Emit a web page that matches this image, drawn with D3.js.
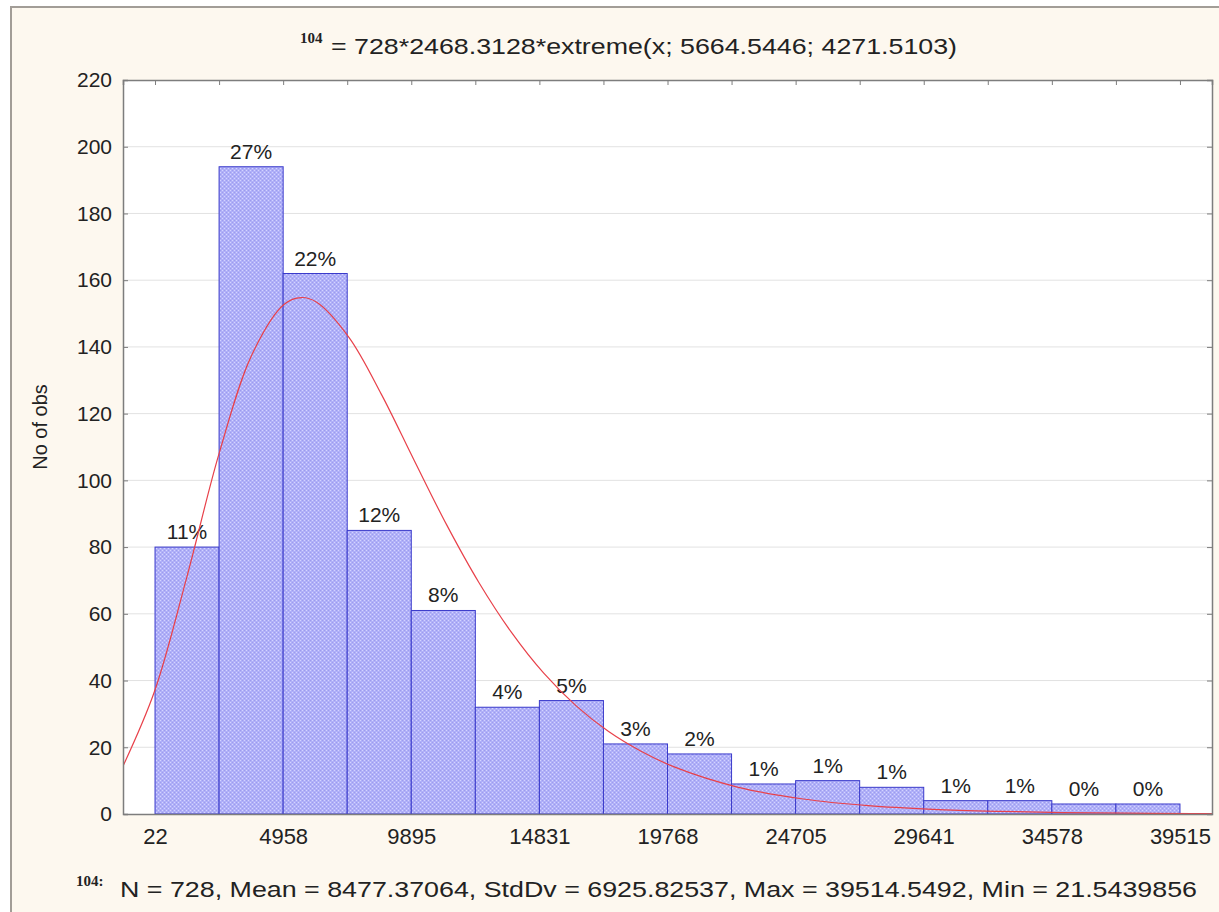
<!DOCTYPE html>
<html>
<head>
<meta charset="utf-8">
<script src="https://cdn.jsdelivr.net/npm/d3@7"></script>
<style>
  body { margin: 0; background: #ffffff; }
  svg { display: block; font-family: "Liberation Sans", Arial, sans-serif; }
</style>
</head>
<body>
<div id="chart"></div>
<script>
const width = 1219;
const height = 912;
const margin = { top: 80, right: 7, bottom: 98, left: 123 };

// bin edges (17 edges -> 16 bins)
const binEdges = [22, 2490.3, 4958.6, 7426.9, 9895.3, 12363.6, 14831.9, 17300.2,
  19768.5, 22236.8, 24705.1, 27173.4, 29641.8, 32110.1, 34578.4, 37046.7, 39515];
const counts = [80, 194, 162, 85, 61, 32, 34, 21, 18, 9, 10, 8, 4, 4, 3, 3];
const pctLabels = ["11%", "27%", "22%", "12%", "8%", "4%", "5%", "3%", "2%",
  "1%", "1%", "1%", "1%", "1%", "0%", "0%"];
const xTickValues = [22, 4958, 9895, 14831, 19768, 24705, 29641, 34578, 39515];
const yTickValues = [0, 20, 40, 60, 80, 100, 120, 140, 160, 180, 200, 220];

// fitted curve
const curveX = [-1250, 0, 1250, 2500, 3750, 5000, 5665, 6250, 7500, 8750, 10000,
  11250, 12500, 13750, 15000, 16250, 17500, 18750, 20000, 22500, 25000, 27500,
  30000, 32500, 35000, 37500, 40000, 41000];
const curveY = [13.7, 36.7, 71.1, 108.3, 137.6, 152.8, 154.8, 153.4, 142.8, 125.7,
  106.1, 86.8, 69.4, 54.5, 42.2, 32.4, 24.7, 18.8, 14.2, 8.0, 4.5, 2.5, 1.4, 0.8,
  0.44, 0.24, 0.14, 0.11];

const titleText = "= 728*2468.3128*extreme(x; 5664.5446; 4271.5103)";
const statsText = "N = 728, Mean = 8477.37064, StdDv = 6925.82537, Max = 39514.5492, Min = 21.5439856";
const varName = "104";

const svg = d3.select("#chart").append("svg")
  .attr("width", width)
  .attr("height", height);

// window background
svg.append("rect")
  .attr("x", 11).attr("y", 7)
  .attr("width", width - 11).attr("height", height - 7)
  .attr("fill", "#fdf8ef");
svg.append("path")
  .attr("d", `M11,${height} V7 H${width}`)
  .attr("fill", "none")
  .attr("stroke", "#a29d97")
  .attr("stroke-width", 2);

const defs = svg.append("defs");
const pat = defs.append("pattern")
  .attr("id", "stipple")
  .attr("width", 4).attr("height", 4)
  .attr("patternUnits", "userSpaceOnUse");
pat.append("rect").attr("width", 4).attr("height", 4).attr("fill", "#b0b0f8");
pat.append("rect").attr("x", 0).attr("y", 0).attr("width", 1).attr("height", 1).attr("fill", "#d4d4ff");
pat.append("rect").attr("x", 2).attr("y", 2).attr("width", 1).attr("height", 1).attr("fill", "#d4d4ff");
pat.append("rect").attr("x", 2).attr("y", 0).attr("width", 1).attr("height", 1).attr("fill", "#9c9cee");
pat.append("rect").attr("x", 0).attr("y", 2).attr("width", 1).attr("height", 1).attr("fill", "#9c9cee");

defs.append("clipPath").attr("id", "plot-clip")
  .append("rect")
  .attr("x", margin.left).attr("y", margin.top)
  .attr("width", width - margin.right - margin.left)
  .attr("height", height - margin.bottom - margin.top);

// ===== SCALES =====
const halfBin = (binEdges[1] - binEdges[0]) / 2;
const x = d3.scaleLinear()
  .domain([binEdges[0] - halfBin, binEdges[binEdges.length - 1] + halfBin])
  .range([margin.left, width - margin.right]);

const y = d3.scaleLinear()
  .domain([0, 220])
  .range([height - margin.bottom, margin.top]);

// plot area
svg.append("rect")
  .attr("x", margin.left).attr("y", margin.top)
  .attr("width", x.range()[1] - x.range()[0])
  .attr("height", y.range()[0] - y.range()[1])
  .attr("fill", "#ffffff");

// ===== GRID =====
svg.append("g")
  .selectAll("line")
  .data(yTickValues.slice(1, -1))
  .join("line")
  .attr("x1", x.range()[0]).attr("x2", x.range()[1])
  .attr("y1", (d) => y(d)).attr("y2", (d) => y(d))
  .attr("stroke", "#e2e2e2")
  .attr("stroke-width", 1);

// ===== BARS =====
const bins = counts.map((c, i) => ({ x0: binEdges[i], x1: binEdges[i + 1], count: c, label: pctLabels[i] }));

svg.append("g")
  .selectAll("rect")
  .data(bins)
  .join("rect")
  .attr("x", (d) => x(d.x0))
  .attr("y", (d) => y(d.count))
  .attr("width", (d) => x(d.x1) - x(d.x0))
  .attr("height", (d) => y(0) - y(d.count))
  .attr("fill", "url(#stipple)")
  .attr("stroke", "#3a3acb")
  .attr("stroke-width", 1);

svg.append("g")
  .selectAll("text")
  .data(bins)
  .join("text")
  .attr("x", (d) => (x(d.x0) + x(d.x1)) / 2)
  .attr("y", (d) => y(d.count) - 8)
  .attr("text-anchor", "middle")
  .attr("font-size", 21)
  .attr("fill", "#222")
  .text((d) => d.label);

// ===== CURVE =====
const line = d3.line()
  .x((d) => x(d[0]))
  .y((d) => y(d[1]))
  .curve(d3.curveCatmullRom);

svg.append("path")
  .datum(curveX.map((v, i) => [v, curveY[i]]))
  .attr("clip-path", "url(#plot-clip)")
  .attr("d", line)
  .attr("fill", "none")
  .attr("stroke", "#e8414a")
  .attr("stroke-width", 1.2);

// ===== AXES =====
const yAxisL = svg.append("g")
  .attr("transform", `translate(${margin.left},0)`)
  .call(d3.axisLeft(y).tickValues(yTickValues).tickSize(-5).tickPadding(11));
const yAxisR = svg.append("g")
  .attr("transform", `translate(${width - margin.right},0)`)
  .call(d3.axisRight(y).tickValues(yTickValues).tickSize(-5).tickFormat(""));
const xAxisT = svg.append("g")
  .attr("transform", `translate(0,${margin.top})`)
  .call(d3.axisTop(x).tickValues(binEdges).tickSize(-5).tickFormat(""));
const xAxisB = svg.append("g")
  .attr("transform", `translate(0,${height - margin.bottom})`)
  .call(d3.axisBottom(x).tickValues(xTickValues).tickSize(0).tickPadding(14).tickFormat(d3.format("d")));

[yAxisL, yAxisR, xAxisT, xAxisB].forEach((g) => {
  g.select(".domain").attr("stroke", "#7d7d7d").attr("stroke-width", 1.5);
  g.selectAll(".tick line").attr("stroke", "#7d7d7d");
  g.selectAll("text")
    .attr("font-size", 21)
    .attr("font-family", "Liberation Sans, Arial, sans-serif")
    .attr("fill", "#222");
});
xAxisB.selectAll("text").attr("font-size", 22);

// y axis title
svg.append("text")
  .attr("transform", `translate(47,${(y.range()[0] + y.range()[1]) / 2 - 20}) rotate(-90)`)
  .attr("text-anchor", "middle")
  .attr("font-size", 20)
  .attr("fill", "#222")
  .text("No of obs");

// ===== TITLE =====
svg.append("text")
  .attr("x", 300).attr("y", 43)
  .attr("font-family", "Liberation Serif, Times New Roman, serif")
  .attr("font-weight", "bold")
  .attr("font-size", 15)
  .attr("fill", "#222")
  .text(varName);
svg.append("text")
  .attr("x", 331).attr("y", 54)
  .attr("font-size", 22)
  .attr("fill", "#222")
  .attr("textLength", 626)
  .attr("lengthAdjust", "spacingAndGlyphs")
  .text(titleText);

// ===== STATS LINE =====
svg.append("text")
  .attr("x", 76).attr("y", 886)
  .attr("font-family", "Liberation Serif, Times New Roman, serif")
  .attr("font-weight", "bold")
  .attr("font-size", 15)
  .attr("fill", "#222")
  .text(varName + ":");
svg.append("text")
  .attr("x", 120).attr("y", 897)
  .attr("font-size", 22)
  .attr("fill", "#222")
  .attr("textLength", 1077)
  .attr("lengthAdjust", "spacingAndGlyphs")
  .text(statsText);
</script>
</body>
</html>
